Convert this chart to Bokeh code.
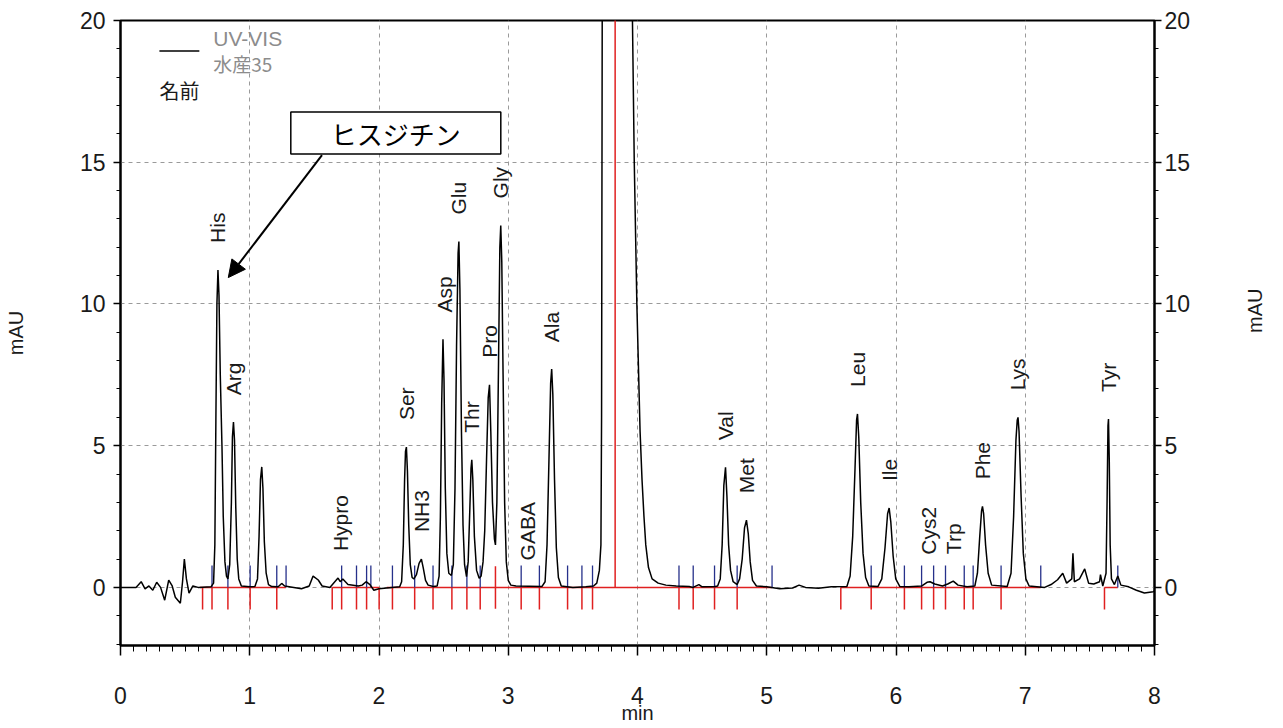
import math
from bokeh.plotting import figure
from bokeh.models import (LinearAxis, SingleIntervalTicker, ColumnDataSource, LabelSet,
                          Label, Arrow, NormalHead, Range1d)
from bokeh.embed import file_html
from bokeh.resources import INLINE
from bokeh.core.properties import value

# ---------------- data ----------------
time_min = [
    0.00, 0.12, 0.16, 0.19, 0.22, 0.25, 0.28, 0.31, 0.342, 0.373, 0.40, 0.424, 0.463, 0.48, 0.494,
    0.51, 0.53, 0.56, 0.60, 0.70, 0.72, 0.73, 0.738, 0.746, 0.754, 0.762, 0.772, 0.785, 0.795,
    0.808, 0.82, 0.831, 0.845, 0.858, 0.866, 0.874, 0.882, 0.892, 0.903, 0.915, 0.935, 1.00,
    1.04, 1.06, 1.072, 1.083, 1.093, 1.102, 1.113, 1.127, 1.145, 1.17, 1.22, 1.247, 1.27, 1.40,
    1.46, 1.49, 1.53, 1.56, 1.62, 1.683, 1.70, 1.72, 1.76, 1.84, 1.87, 1.90, 1.93, 1.96, 2.00,
    2.10, 2.16, 2.175, 2.188, 2.198, 2.205, 2.212, 2.22, 2.23, 2.242, 2.256, 2.27, 2.29, 2.31,
    2.328, 2.342, 2.36, 2.38, 2.42, 2.45, 2.465, 2.475, 2.485, 2.495, 2.503, 2.513, 2.525, 2.54,
    2.56, 2.575, 2.588, 2.60, 2.612, 2.618, 2.626, 2.638, 2.65, 2.662, 2.677, 2.69, 2.703, 2.712,
    2.718, 2.726, 2.738, 2.755, 2.775, 2.79, 2.805, 2.818, 2.832, 2.845, 2.855, 2.865, 2.878,
    2.893, 2.901, 2.912, 2.925, 2.935, 2.942, 2.95, 2.96, 2.972, 2.985, 3.00, 3.02, 3.06, 3.26,
    3.285, 3.30, 3.315, 3.328, 3.336, 3.345, 3.358, 3.372, 3.388, 3.41, 3.50, 3.60, 3.66, 3.685,
    3.705, 3.717, 3.722, 3.727, 3.75, 3.84, 3.93, 3.961, 3.975, 3.995, 4.02, 4.035, 4.05, 4.064,
    4.085, 4.113, 4.16, 4.22, 4.30, 4.40, 4.43, 4.475, 4.50, 4.60, 4.62, 4.64, 4.655, 4.668,
    4.681, 4.692, 4.705, 4.72, 4.74, 4.771, 4.79, 4.81, 4.828, 4.843, 4.857, 4.872, 4.89, 4.92,
    5.00, 5.10, 5.20, 5.25, 5.30, 5.40, 5.50, 5.62, 5.645, 5.665, 5.683, 5.695, 5.702, 5.712,
    5.727, 5.745, 5.765, 5.79, 5.86, 5.89, 5.915, 5.935, 5.947, 5.96, 5.978, 5.998, 6.03, 6.10,
    6.20, 6.24, 6.263, 6.30, 6.36, 6.40, 6.443, 6.48, 6.55, 6.61, 6.63, 6.648, 6.662, 6.669,
    6.678, 6.693, 6.713, 6.74, 6.86, 6.89, 6.91, 6.928, 6.938, 6.944, 6.952, 6.968, 6.985,
    7.005, 7.03, 7.15, 7.20, 7.25, 7.29, 7.32, 7.36, 7.369, 7.38, 7.42, 7.46, 7.49, 7.53,
    7.575, 7.582, 7.60, 7.625, 7.633, 7.64, 7.644, 7.65, 7.657, 7.667, 7.69, 7.716, 7.74,
    7.80, 7.86, 7.922, 7.99, 8.00,
]
signal_mau = [
    0.00, 0.00, 0.20, -0.05, 0.05, -0.10, 0.18, 0.00, -0.45, 0.26, 0.05, -0.35, -0.56, 0.20, 1.00,
    0.30, -0.20, 0.05, 0.00, 0.02, 0.15, 1.5, 5.9, 10.0, 11.2, 10.3, 7.5, 5.0, 2.5,
    0.9, 0.4, 0.3, 0.8, 3.0, 5.3, 5.83, 5.2, 2.8, 1.0, 0.3, 0.05, 0.02,
    0.03, 0.3, 1.8, 3.8, 4.25, 3.5, 1.6, 0.5, 0.1, 0.03, 0.02, 0.14, 0.05, -0.05,
    0.05, 0.40, 0.26, 0.05, 0.00, 0.33, 0.20, 0.30, 0.10, 0.05, 0.08, 0.20, 0.10, -0.10, -0.05,
    0.00, 0.02, 0.2, 1.5, 3.8, 4.8, 4.95, 4.1, 2.2, 0.8, 0.35, 0.3, 0.45, 0.85,
    1.0, 0.7, 0.25, 0.08, 0.03, 0.05, 0.4, 2.5, 6.5, 8.75, 7.3, 3.5, 1.2, 0.5,
    0.42, 0.8, 3.5, 8.5, 11.8, 12.2, 10.5, 5.5, 2.2, 0.8, 0.38, 0.9, 2.8, 4.2,
    4.5, 3.8, 1.8, 0.6, 0.32, 0.4, 0.9, 2.0, 4.5, 6.7, 7.15, 5.5, 3.0,
    1.7, 1.5, 3.0, 8.0, 12.0, 12.77, 11.5, 7.5, 3.0, 0.9, 0.25, 0.08, 0.05, 0.03,
    0.2, 1.5, 4.5, 7.2, 7.7, 6.8, 3.8, 1.4, 0.35, 0.05, 0.00, 0.02, 0.05, 0.15,
    0.6, 1.5, 6.0, 20.0, 35.0, 50.0, 35.0, 20.0, 15.0, 10.0, 5.5, 3.8, 2.5, 1.5,
    0.7, 0.3, 0.15, 0.08, 0.05, 0.03, 0.00, 0.10, 0.02, 0.03, 0.05, 0.3, 1.5, 3.6,
    4.24, 3.2, 1.5, 0.6, 0.2, 0.1, 0.3, 1.0, 2.1, 2.37, 1.9, 0.9, 0.25, 0.05,
    0.02, -0.05, -0.02, 0.08, 0.00, -0.03, 0.02, 0.03, 0.4, 1.8, 4.2, 5.9, 6.12, 5.3,
    3.0, 1.2, 0.35, 0.05, 0.03, 0.3, 1.4, 2.6, 2.8, 2.3, 1.1, 0.3, 0.03, 0.02,
    0.05, 0.18, 0.20, 0.12, 0.05, 0.12, 0.22, 0.08, 0.02, 0.05, 0.5, 1.8, 2.7, 2.86,
    2.6, 1.5, 0.5, 0.08, 0.03, 0.5, 2.5, 5.2, 5.9, 6.0, 5.5, 3.2, 1.2,
    0.3, 0.05, 0.00, 0.10, 0.27, 0.50, 0.15, 0.30, 1.20, 0.20, 0.30, 0.65, 0.15, 0.12,
    0.20, 0.45, 0.05, 0.5, 3.0, 5.7, 5.94, 4.5, 1.5, 0.3, 0.10, 0.40, 0.08,
    0.02, -0.10, -0.20, -0.15, -0.12,
]

peak_names = ["His", "Arg", "Hypro", "Ser", "NH3", "Asp", "Glu", "Thr", "Pro", "Gly", "GABA",
              "Ala", "Val", "Met", "Leu", "Ile", "Cys2", "Trp", "Phe", "Lys", "Tyr"]
peak_times = [0.754, 0.874, 1.70, 2.212, 2.328, 2.503, 2.618, 2.718, 2.855, 2.942, 3.151,
              3.336, 4.681, 4.843, 5.702, 5.947, 6.25, 6.443, 6.669, 6.944, 7.644]
peak_heights = [11.2, 5.83, 0.33, 4.95, 1.0, 8.75, 12.2, 4.5, 7.15, 12.77, 0.0,
                7.7, 4.24, 2.37, 6.12, 2.8, 0.2, 0.22, 2.86, 6.0, 5.94]

red_ticks = [0.635, 0.708, 0.831, 1.003, 1.209, 1.638, 1.711, 1.826, 1.904, 2.001, 2.104,
             2.276, 2.418, 2.564, 2.68, 2.783, 3.1, 3.241, 3.459, 3.57, 3.652, 4.321,
             4.431, 4.596, 4.771, 5.573, 5.808, 6.065, 6.198, 6.291, 6.383, 6.528, 6.597,
             6.813, 7.613]
red_split_ticks = [2.901]
blue_ticks = [0.708, 0.831, 1.003, 1.209, 1.281, 1.711, 1.826, 1.904, 1.937, 2.104, 2.276,
              2.418, 2.564, 2.68, 2.783, 3.1, 3.241, 3.459, 3.57, 3.652, 4.321, 4.431,
              4.596, 4.771, 5.041, 5.808, 6.065, 6.198, 6.291, 6.383, 6.528, 6.597, 6.813,
              7.12, 7.716]
baseline_starts = [0.615, 1.638, 2.06, 5.573, 7.613]
baseline_ends = [1.28, 2.001, 5.041, 7.12, 7.716]
solvent_cut = [3.827]

x_ticks_interval = 1
y_ticks_interval = 5

# ---------------- figure ----------------
FONT = "Liberation Sans"
p = figure(width=1280, height=726, output_backend="svg", toolbar_location=None,
           x_range=Range1d(0, 8), y_range=Range1d(-2.05, 20),
           min_border_left=120, min_border_right=123, min_border_top=20, min_border_bottom=79,
           background_fill_color="white", border_fill_color="white")
p.outline_line_color = "black"
p.outline_line_width = 2

xt = SingleIntervalTicker(interval=x_ticks_interval, num_minor_ticks=10)
yt = SingleIntervalTicker(interval=y_ticks_interval, num_minor_ticks=5)
p.xaxis.ticker = xt
p.yaxis.ticker = yt
p.xgrid.ticker = xt
p.ygrid.ticker = yt
for g in (p.xgrid, p.ygrid):
    g.grid_line_color = "#9a9a9a"
    g.grid_line_dash = "4 4"
    g.grid_line_width = 1


def style_axis(ax):
    ax.axis_line_color = "black"
    ax.axis_line_width = 2
    ax.major_tick_line_color = "black"
    ax.minor_tick_line_color = "black"
    ax.major_tick_line_width = 1.5
    ax.minor_tick_line_width = 1
    ax.major_tick_in = 0
    ax.minor_tick_in = 0
    ax.major_label_text_font = FONT
    ax.major_label_text_font_size = "23px"
    ax.major_label_text_color = "#1a1a1a"
    ax.axis_label_text_font = FONT
    ax.axis_label_text_font_size = "20px"
    ax.axis_label_text_font_style = "normal"
    ax.axis_label_text_color = "#1a1a1a"


xa = p.xaxis[0]
style_axis(xa)
xa.major_tick_out = 10
xa.minor_tick_out = 6
xa.major_label_standoff = 31
xa.axis_label = "min"
xa.axis_label_standoff = -5

ya = p.yaxis[0]
style_axis(ya)
ya.major_tick_out = 7
ya.minor_tick_out = 4
ya.major_label_standoff = 8
ya.axis_label = "mAU"
ya.axis_label_standoff = 50

ra = LinearAxis(ticker=yt)
style_axis(ra)
ra.major_tick_out = 7
ra.minor_tick_out = 4
ra.major_label_standoff = 3
ra.axis_label = "mAU"
ra.axis_label_standoff = 62
if hasattr(ra, "axis_label_orientation"):
    ra.axis_label_orientation = math.pi / 2
p.add_layout(ra, "right")

# integration baseline (red) and event marks
p.segment(x0=baseline_starts, y0=[0] * len(baseline_starts), x1=baseline_ends,
          y1=[0] * len(baseline_ends), line_color="#e02020", line_width=1.5)
p.segment(x0=red_ticks, y0=[0] * len(red_ticks), x1=red_ticks, y1=[-0.78] * len(red_ticks),
          line_color="#e02020", line_width=1.5)
p.segment(x0=red_split_ticks, y0=[-0.75], x1=red_split_ticks, y1=[0.75],
          line_color="#e02020", line_width=1.5)
p.segment(x0=blue_ticks, y0=[0] * len(blue_ticks), x1=blue_ticks, y1=[0.77] * len(blue_ticks),
          line_color="#26308a", line_width=1.3)
p.segment(x0=solvent_cut, y0=[0], x1=solvent_cut, y1=[25], line_color="#e02020", line_width=1.5)

# chromatogram trace
p.line(time_min, signal_mau, line_color="black", line_width=1.5)

# peak names
src = ColumnDataSource(dict(x=peak_times, y=peak_heights, name=peak_names))
p.add_layout(LabelSet(x="x", y="y", text="name", source=src, angle=math.pi / 2,
                      text_align="left", text_baseline="middle", y_offset=27,
                      text_font=value(FONT), text_font_size="21px", text_color="#1a1a1a"))

# legend-like header (top left)
p.segment(x0=[0.301], y0=[18.92], x1=[0.61], y1=[18.92], line_color="black", line_width=1.5)
p.add_layout(Label(x=0.718, y=19.37, text="UV-VIS", text_font=FONT, text_font_size="21px",
                   text_color="#8c8c8c", text_baseline="middle"))
p.add_layout(Label(x=0.718, y=18.48, text="水産35", text_font="Noto Sans CJK JP",
                   text_font_size="19px", text_color="#8c8c8c", text_baseline="middle"))
p.add_layout(Label(x=0.301, y=17.54, text="名前", text_font="Noto Sans CJK JP",
                   text_font_size="20px", text_color="#1a1a1a", text_baseline="middle"))

# annotation box + arrow pointing at His
his_t = peak_times[0]
his_h = peak_heights[0]
box_x, box_y = 2.13, 16.03
p.rect(x=[box_x], y=[box_y], width=210, height=42, width_units="screen", height_units="screen",
       fill_color="white", line_color="black", line_width=1.5)
p.add_layout(Label(x=box_x, y=box_y, text="ヒスジチン", text_font="Noto Sans CJK JP",
                   text_font_size="26px", text_color="black", text_align="center",
                   text_baseline="middle"))
p.add_layout(Arrow(end=NormalHead(size=17, fill_color="black", line_color="black"),
                   x_start=1.559, y_start=15.25, x_end=his_t + 0.08, y_end=his_h - 0.27,
                   line_color="black", line_width=2))

open("out.html", "w").write(file_html(p, INLINE))
